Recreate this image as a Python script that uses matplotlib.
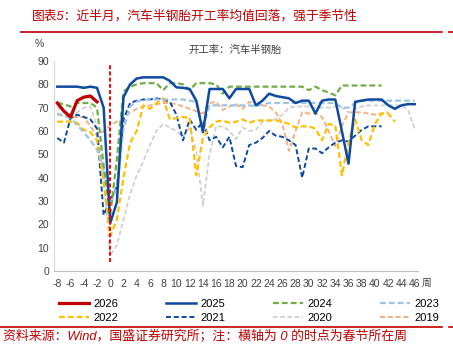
import numpy as np
import matplotlib
matplotlib.use("Agg")
import matplotlib.pyplot as plt

plt.rcParams['font.family'] = ['Liberation Sans', 'Noto Sans CJK SC', 'DejaVu Sans']
plt.rcParams['axes.unicode_minus'] = False

# 周次：-8 开始，0 为春节所在周
start_week = -8

y2026 = [72, 68.5, 66, 73, 74.5, 75, 72.5]
y2025 = [79, 79, 79, 79, 78.5, 79, 78.5, 70, 20.5, 29.5, 74.5, 80, 82.5, 83, 83, 83, 83, 81.5, 78.7,
         78.5, 78, 73, 59.5, 78, 78, 78, 74, 78, 78, 78, 71, 73, 76, 75, 74.5, 74, 72, 73, 73, 67.5,
         73, 73.5, 73.5, 60, 46, 72.5, 73, 73.5, 73.5, 73.5, 71, 69.5, 71, 71.5, 71.5]
y2024 = [72, 71.5, 70.5, 72, 72, 72, 70, 45, 24, 48, 77, 79, 80, 80.5, 80.5, 80.5, 77.5, 80.5, 80.5,
         80, 77.5, 80.5, 80.5, 80.5, 80, 76, 79, 79, 79, 79, 79, 79, 79, 79, 79, 79, 79, 79, 77.5, 79,
         77.5, 76.5, 75.3, 79.5, 79.5, 79.5, 79.5, 79.5, 79.5, 79.5]
y2023 = [67.5, 66.5, 65.5, 62.5, 59.5, 56, 52, 44, 28, 36, 61, 70.5, 72.5, 73.5, 73.5, 73.5, 73.5,
         73.5, 73.5, 73.5, 73, 72.5, 61, 71, 71, 71, 71, 71, 71, 71, 70.5, 71.5, 72, 72, 72, 72, 72,
         72, 72, 72, 72, 72, 72, 70, 70, 72, 73, 73, 73, 73, 73, 73, 73, 73, 73]
y2022 = [64, 64, 64, 63.5, 60.5, 59.5, 56, 38, 15, 22, 40, 55, 60, 71, 69.5, 72, 74, 65, 65.5, 66,
         65.5, 41, 57, 61.5, 64, 64.5, 63.5, 64, 65, 63.5, 64.5, 64.5, 64.5, 64.5, 64, 63, 61.5, 62,
         62, 61, 56, 63, 62.5, 41, 55, 65, 56, 54, 63, 67.5, 67.5, 64]
y2021 = [57, 55, 65.5, 67, 66, 65, 61, 24, 30, 36, 65, 72, 73, 73.5, 73.5, 74, 73.5, 72.5, 67, 56,
         65, 60.5, 64, 56, 57.5, 53, 57.5, 45, 44.5, 54, 55, 57, 60, 58, 57.5, 56, 54, 40, 52.5,
         52.5, 50.5, 53, 55, 56, 55.5, 58, 60.5, 62, 62, 62]
y2020 = [70.5, 68, 67, 68, 70, 70.5, 62, 40, 7, 11, 22, 33, 41, 47, 54, 60, 63, 61.5, 60, 57.5,
         61.5, 51, 28, 50, 62, 62, 60, 56.5, 61.5, 60, 60.5, 64, 64.5, 65, 67, 70, 70.5, 70.5, 70.5,
         70, 70, 70, 70.5, 70, 68, 69.5, 70.5, 71, 71, 71, 71, 71, 71, 69, 61]
y2019 = [67, 66.5, 66, 66, 66, 62, 58, 60, 62.5, 64, 66, 68, 69.5, 70.5, 71, 71.5, 72, 72, 71.5,
         70.5, 69.5, 68.5, 67.5, 72, 72.5, 69, 70.5, 71.5, 69.5, 72.5, 71.5, 71, 70.5, 68, 63, 51.5,
         60, 68, 67.5, 67.5, 66, 60, 53.5, 62, 68, 68, 68, 67.5, 67, 67.5, 68]

years = ['2026', '2025', '2024', '2023', '2022', '2021', '2020', '2019']
series = [y2026, y2025, y2024, y2023, y2022, y2021, y2020, y2019]
colors = ['#C00000', '#0D4AA0', '#70AD47', '#9DC3E6', '#FFC000', '#0D4AA0', '#D0D0D0', '#F4B183']
styles = ['-', '-', '--', '--', '--', '--', '--', '--']
widths = [2.3, 1.8, 1.6, 1.6, 1.6, 1.4, 1.3, 1.4]

xticks = list(range(-8, 47, 2))

fig = plt.figure(figsize=(4.53, 3.48), dpi=100)
ax = fig.add_axes([54 / 453, 77 / 348, 364 / 453, 210 / 348])

lines = {}
# 先画早年，2026 放在最上层
for name, vals, c, ls, lw in reversed(list(zip(years, series, colors, styles, widths))):
    wk = np.arange(start_week, start_week + len(vals))
    ln, = ax.plot(wk, vals, color=c, linestyle=ls, linewidth=lw)
    if ls == '--':
        ln.set_dashes((2.6, 1.4))
    lines[name] = ln

# 春节所在周
ax.plot([0, 0], [4, 89], color='#FF0000', linestyle='--', linewidth=1.4, dashes=(2, 1.2))

ax.set_xlim(-8.5, 46.5)
ax.set_ylim(0, 90)
ax.set_yticks(range(0, 91, 10))
ax.set_xticks(xticks)
ax.tick_params(length=0, labelsize=7.5, colors='#404040')
ax.tick_params(axis='x', pad=6)
for s in ['top', 'right']:
    ax.spines[s].set_visible(False)
ax.spines['left'].set_color('#D9D9D9')
ax.spines['bottom'].set_color('#BFBFBF')

fig.text(427 / 453, 1 - 283 / 348, '周', fontsize=7, ha='center', va='center', color='#404040')
fig.text(39 / 453, 1 - 44 / 348, '%', fontsize=7.5, ha='center', va='center', color='#404040')
fig.text(235 / 453, 1 - 50 / 348, '开工率：汽车半钢胎', fontsize=7.5, ha='center', va='center',
         color='#404040')

# 图例按行排列
order = ['2026', '2022', '2025', '2021', '2024', '2020', '2023', '2019']
fig.legend([lines[k] for k in order], order, ncol=4, frameon=False, fontsize=8,
           loc='upper left', bbox_to_anchor=(53 / 453, 1 - 293 / 348), borderpad=0,
           handlelength=2.7, handletextpad=0.4, columnspacing=4.3, labelspacing=0.4)

# 标题与来源
red = '#C00000'
fig.text(32 / 453, 1 - 16 / 348, '图表5：近半月，汽车半钢胎开工率均值回落，强于季节性',
         fontsize=9.2, color=red, ha='left', va='center', style='italic')
fig.add_artist(plt.Line2D([21 / 453, 442 / 453], [1 - 31.5 / 348] * 2, color=red, linewidth=1.2))
fig.add_artist(plt.Line2D([449 / 453, 453 / 453], [1 - 31.5 / 348] * 2, color=red, linewidth=1.2))
fig.add_artist(plt.Line2D([0, 442 / 453], [1 - 326.5 / 348] * 2, color=red, linewidth=1.2))
fig.add_artist(plt.Line2D([449 / 453, 453 / 453], [1 - 326.5 / 348] * 2, color=red, linewidth=1.2))
fig.text(3 / 453, 1 - 337 / 348, '资料来源：Wind，国盛证券研究所；注：横轴为 0 的时点为春节所在周',
         fontsize=9.3, color=red, ha='left', va='center', style='italic')

fig.savefig('out.png', dpi=100)
